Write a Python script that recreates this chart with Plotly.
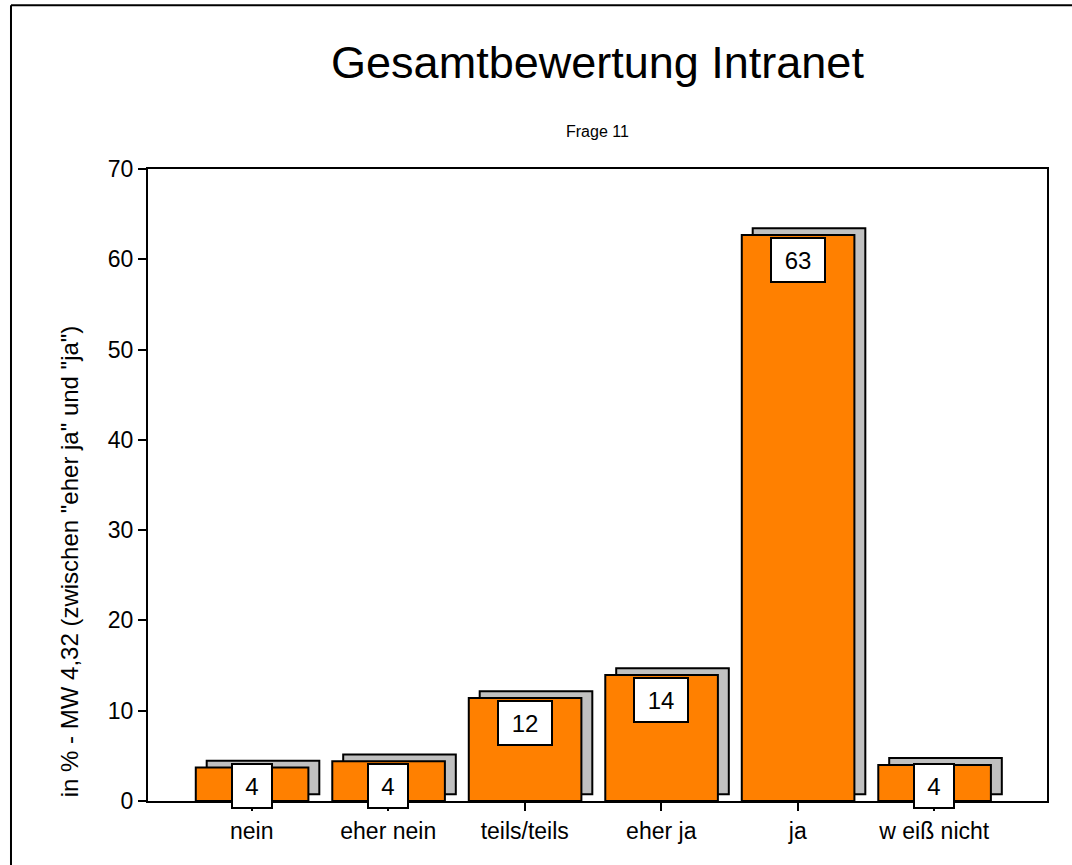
import plotly.graph_objects as go

# Werte aus Frage 11 (in %)
categories = ['nein', 'eher nein', 'teils/teils', 'eher ja', 'ja', 'w eiß nicht']
percent = [3.7, 4.4, 11.4, 13.95, 62.7, 4.0]
labels = ['4', '4', '12', '14', '63', '4']

FONT = 'Arial, Liberation Sans, sans-serif'
ORANGE = '#FF8000'
SHADOW = '#C0C0C0'

fig = go.Figure()

# gray "shadow" bars behind, shifted right and up
fig.add_trace(go.Bar(
    x=categories, y=percent, base=0.75,
    width=0.825, offset=-0.33,
    marker=dict(color=SHADOW, line=dict(color='black', width=2)),
    hoverinfo='skip', showlegend=False
))

fig.add_trace(go.Bar(
    x=categories, y=percent,
    width=0.825, offset=-0.41,
    marker=dict(color=ORANGE, line=dict(color='black', width=2)),
    showlegend=False
))

# white value boxes
for cat, val, lab in zip(categories, percent, labels):
    fig.add_annotation(
        x=cat, y=max(val - 0.2, 4.25), xref='x', yref='y',
        text=lab, showarrow=False, yanchor='top', xanchor='center',
        width=38 if len(lab) == 1 else 52, height=42,
        bgcolor='white', bordercolor='black', borderwidth=2, borderpad=0,
        font=dict(family=FONT, size=24, color='black')
    )

# subtitle
fig.add_annotation(
    x=0.5, y=1.06, xref='paper', yref='paper', text='Frage 11',
    showarrow=False, xanchor='center', yanchor='middle',
    font=dict(family=FONT, size=16, color='black')
)

# y axis title placed as rotated annotation
fig.add_annotation(
    x=-0.087, y=0.379, xref='paper', yref='paper',
    text='in % - MW 4,32 (zwischen "eher ja" und "ja")',
    showarrow=False, textangle=-90, xanchor='center', yanchor='middle',
    font=dict(family=FONT, size=24, color='black')
)

# outer frame (left and top edge)
fig.add_shape(type='line', xref='paper', yref='paper',
              x0=-0.1524, x1=-0.1524, y0=1.259, y1=-0.12,
              line=dict(color='black', width=2))
fig.add_shape(type='line', xref='paper', yref='paper',
              x0=-0.1524, x1=1.05, y0=1.259, y1=1.259,
              line=dict(color='black', width=2))

fig.update_layout(
    title=dict(text='Gesamtbewertung Intranet', xref='paper', x=0.5,
               xanchor='center', y=1 - 62 / 865, yanchor='middle',
               font=dict(family=FONT, size=45, color='black')),
    barmode='overlay',
    width=1072, height=865,
    margin=dict(l=148, r=25, t=169, b=64),
    plot_bgcolor='white', paper_bgcolor='white',
    font=dict(family=FONT, size=23, color='black'),
    xaxis=dict(range=[-0.76, 5.826], showline=True, mirror=True,
               linecolor='black', linewidth=2, ticks='outside',
               ticklen=8, tickwidth=2, tickcolor='black',
               showgrid=False, zeroline=False,
               tickfont=dict(family=FONT, size=23)),
    yaxis=dict(range=[0, 70], tickvals=[0, 10, 20, 30, 40, 50, 60, 70],
               showline=True, mirror=True, linecolor='black', linewidth=2,
               ticks='outside', ticklen=8, tickwidth=2, tickcolor='black',
               showgrid=False, zeroline=False,
               tickfont=dict(family=FONT, size=23)),
)

# page body has a default 8px margin; drop it so the figure sits at 0,0
fig.write_html("out.html", config={'displayModeBar': False},
               post_script="document.body.style.margin='0';")
